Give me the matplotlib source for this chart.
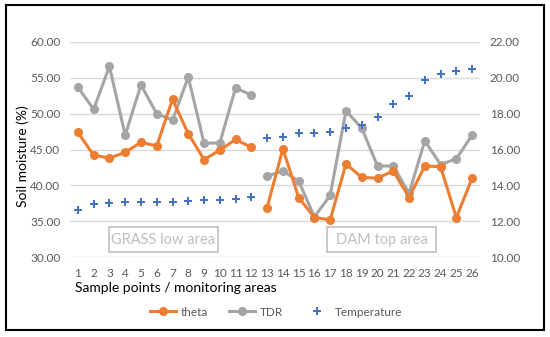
import numpy as np
import matplotlib.pyplot as plt
from matplotlib.patches import Rectangle

plt.rcParams['font.family'] = ['Lato', 'DejaVu Sans']

points = np.arange(1, 27)
theta = [47.4, 44.2, 43.8, 44.6, 46.0, 45.5, 52.0, 47.2, 43.6, 44.9, 46.4, 45.3,
         36.9, 45.1, 38.3, 35.5, 35.2, 43.0, 41.1, 41.0, 42.0, 38.3, 42.7, 42.6, 35.5, 41.0]
tdr = [53.7, 50.6, 56.6, 47.0, 54.0, 50.0, 49.1, 55.1, 45.9, 45.9, 53.6, 52.6,
       41.3, 42.0, 40.6, 35.6, 38.6, 50.4, 48.0, 42.7, 42.7, 38.9, 46.2, 42.9, 43.7, 47.0]
temperature = [12.6, 12.94, 13.0, 13.07, 13.07, 13.07, 13.09, 13.15, 13.18, 13.18, 13.24, 13.37,
               16.63, 16.72, 16.92, 16.92, 17.0, 17.2, 17.39, 17.8, 18.52, 18.99, 19.9, 20.2, 20.38, 20.51]
left_ticks = [30, 35, 40, 45, 50, 55, 60]
right_ticks = [10, 12, 14, 16, 18, 20, 22]

orange = '#ED7D31'
grey = '#A5A5A5'
blue = '#4472C4'
tick_col = '#595959'

W, H = 550, 337
fig = plt.figure(figsize=(5.5, 3.37), dpi=100)
ax = fig.add_axes([70 / W, 1 - 257 / H, 410 / W, 215 / H])
ax2 = ax.twinx()

# gaps between the two areas
theta_g = np.array(theta[:12] + [np.nan] + theta[12:])
tdr_g = np.array(tdr[:12] + [np.nan] + tdr[12:])
x_g = np.concatenate([points[:12], [12.5], points[12:]])

ax.plot(x_g, theta_g, color=orange, lw=2.2, marker='o', ms=5.5, label='theta', zorder=3)
ax.plot(x_g, tdr_g, color=grey, lw=2.2, marker='o', ms=5.5, label='TDR', zorder=2)
ax2.plot(points, temperature, ls='none', marker='P', ms=5.5, color=blue, mew=0,
         label='Temperature')

ax.set_xlim(0.5, 26.5)
ax.set_ylim(30, 60)
ax2.set_ylim(10, 22)
ax.set_xticks(points)
ax.set_yticks(left_ticks)
ax.set_yticklabels([f'{v:.2f}' for v in left_ticks])
ax2.set_yticks(right_ticks)
ax2.set_yticklabels([f'{v:.2f}' for v in right_ticks])
ax.grid(axis='y', color='#D9D9D9', lw=1)
ax.set_axisbelow(True)
for a in (ax, ax2):
    for s in a.spines.values():
        s.set_visible(False)
    a.tick_params(length=0, colors=tick_col, labelsize=8.5)
ax.tick_params(axis='y', pad=7)
ax2.tick_params(axis='y', pad=7)
ax.tick_params(axis='x', pad=8)

# area boxes
for x0, x1, txt in [(109, 218, 'GRASS low area'), (327, 436, 'DAM top area')]:
    fig.patches.append(Rectangle((x0 / W, 1 - 252 / H), (x1 - x0) / W, 25 / H,
                                 transform=fig.transFigure, fill=False,
                                 ec='#BFBFBF', lw=1.2))
    fig.text((x0 + x1) / 2 / W, 1 - 240 / H, txt, ha='center', va='center',
             color='#BFBFBF', fontsize=10.5)

fig.text(75 / W, 1 - 288 / H, 'Sample points / monitoring areas', ha='left',
         va='center', fontsize=10, color='black')
fig.text(23 / W, 1 - 156 / H, 'Soil moisture (%)', rotation=90, ha='center',
         va='center', fontsize=10, color='black')

h1, l1 = ax.get_legend_handles_labels()
h2, l2 = ax2.get_legend_handles_labels()
fig.legend(h1 + h2, l1 + l2, loc='center', bbox_to_anchor=(276 / W, 1 - 312 / H),
           ncol=3, frameon=False, fontsize=8.5, labelcolor=tick_col,
           handlelength=2.2, columnspacing=1.8, handletextpad=0.4)

fig.patches.append(Rectangle((6 / W, 1 - 330 / H), 538 / W, 325 / H,
                             transform=fig.transFigure, fill=False, ec='black', lw=1.5))

fig.savefig('out.png', dpi=100)
